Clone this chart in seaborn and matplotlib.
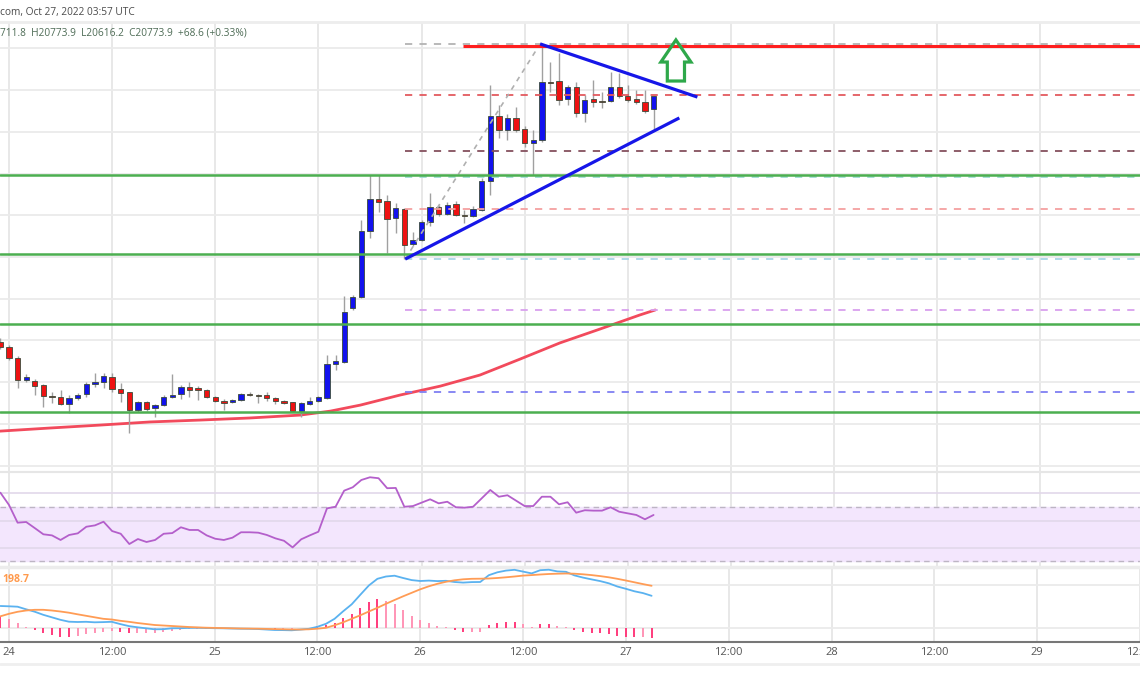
import numpy as np
import seaborn as sns
import matplotlib as mpl
import matplotlib.pyplot as plt
from matplotlib.lines import Line2D
from matplotlib.patches import FancyArrow

sns.set_theme(style="white")
mpl.rcParams["font.family"] = ["Open Sans", "DejaVu Sans"]

# hourly BTC candles, Oct 23 23:00 .. Oct 27 03:00 UTC (x = hours since Oct 24 00:00)
hours = np.arange(-1, 76)

opens = [19592, 19568, 19516, 19410, 19405, 19386, 19333, 19329, 19295, 19324,
         19343, 19391, 19401, 19425, 19367, 19353, 19266, 19305, 19276, 19290,
         19329, 19343, 19377, 19372, 19362, 19329, 19309, 19305, 19314, 19343,
         19338, 19338, 19324, 19309, 19305, 19261, 19295, 19309, 19324, 19487,
         19496, 19755, 19808, 20125, 20278, 20269, 20187, 20230, 20062, 20082,
         20168, 20240, 20206, 20254, 20201, 20197, 20225, 20365, 20676, 20609,
         20667, 20614, 20547, 20561, 20839, 20844, 20758, 20815, 20691, 20758,
         20748, 20748, 20815, 20772, 20758, 20743, 20711.8]
highs = [19612, 19578, 19525, 19439, 19415, 19391, 19353, 19362, 19338, 19348,
         19401, 19444, 19444, 19444, 19396, 19353, 19309, 19309, 19295, 19338,
         19439, 19386, 19401, 19381, 19367, 19333, 19319, 19319, 19348, 19353,
         19343, 19353, 19329, 19314, 19305, 19305, 19329, 19333, 19530, 19530,
         19813, 19818, 20177, 20393, 20393, 20297, 20259, 20235, 20120, 20177,
         20307, 20249, 20264, 20269, 20225, 20245, 20379, 20825, 20729, 20686,
         20719, 20628, 20609, 21022, 20935, 20978, 20825, 20839, 20777, 20849,
         20791, 20887, 20883, 20825, 20801, 20801, 20773.9]
lows = [19559, 19506, 19372, 19401, 19338, 19281, 19300, 19290, 19252, 19314,
        19329, 19377, 19372, 19353, 19305, 19156, 19257, 19261, 19233, 19285,
        19324, 19319, 19329, 19314, 19324, 19305, 19266, 19300, 19309, 19333,
        19300, 19309, 19295, 19295, 19257, 19233, 19290, 19305, 19319, 19458,
        19492, 19746, 19803, 20091, 20216, 20019, 20115, 19990, 20053, 20077,
        20149, 20197, 20201, 20197, 20163, 20192, 20221, 20297, 20571, 20561,
        20600, 20528, 20393, 20552, 20791, 20729, 20729, 20671, 20648, 20719,
        20715, 20743, 20763, 20743, 20734, 20691, 20616.2]
closes = [19568, 19516, 19410, 19425, 19381, 19333, 19329, 19295, 19324, 19338,
          19391, 19401, 19429, 19367, 19348, 19266, 19305, 19271, 19290, 19329,
          19338, 19377, 19362, 19362, 19329, 19309, 19300, 19314, 19343, 19338,
          19333, 19324, 19309, 19300, 19261, 19300, 19309, 19329, 19487, 19501,
          19736, 19808, 20125, 20278, 20264, 20182, 20235, 20058, 20082, 20168,
          20240, 20206, 20249, 20201, 20197, 20230, 20365, 20676, 20609, 20667,
          20609, 20547, 20561, 20839, 20835, 20753, 20815, 20691, 20753, 20743,
          20743, 20815, 20772, 20753, 20743, 20700, 20773.9]

# 100 SMA
ma_hours = [-1.05, 4.8, 10.6, 16.4, 22.2, 28.0, 33.9, 37.4, 40.9, 45.5,
            50.2, 54.8, 59.5, 64.1, 68.8, 73.4, 75.2]
ma_values = [19165, 19180, 19194, 19209, 19218, 19228, 19242, 19261, 19290, 19338,
             19381, 19434, 19511, 19588, 19655, 19722, 19746]

rsi = [80.6, 71.5, 58.4, 58.9, 54.4, 49.8, 49.0, 45.6, 49.3, 50.5,
       55.4, 56.4, 59.1, 52.2, 50.2, 42.6, 46.3, 44.1, 45.6, 50.2,
       50.7, 55.0, 53.0, 53.0, 49.0, 46.5, 45.6, 47.3, 51.3, 51.3,
       51.0, 49.3, 46.8, 45.0, 40.1, 46.1, 49.0, 51.7, 69.0, 70.2,
       82.1, 84.6, 90.0, 92.0, 91.3, 83.9, 84.1, 70.2, 70.7, 73.2,
       75.7, 72.7, 73.9, 69.8, 69.5, 70.2, 76.4, 82.6, 77.6, 78.7,
       74.7, 70.7, 70.7, 77.6, 77.6, 72.0, 73.5, 65.8, 67.6, 67.3,
       67.3, 69.8, 66.5, 65.3, 64.1, 60.9, 64.1]

macd = [22.3, 22.0, 21.6, 19.0, 16.6, 13.5, 11.0, 8.5, 6.6, 6.3,
        6.5, 6.0, 6.2, 6.5, 4.2, 2.2, 1.0, 0.0, -1.0, -0.9,
        0.0, 0.1, 0.4, 0.5, 0.3, 0.1, 0.0, -0.2, -0.4, -0.5,
        -0.7, -1.2, -1.7, -1.8, -2.0, -1.3, -0.5, 1.5, 4.5, 9.5,
        17.0, 24.0, 33.5, 42.8, 49.5, 51.8, 52.6, 50.3, 48.2, 47.3,
        47.7, 47.2, 47.5, 46.3, 45.7, 46.2, 46.3, 53.1, 56.0, 57.7,
        58.5, 56.7, 54.9, 58.1, 58.6, 56.9, 56.5, 52.9, 50.7, 48.9,
        47.2, 45.0, 41.8, 39.5, 37.0, 35.2, 32.5]
signal = [12.0, 14.5, 16.5, 17.8, 18.5, 18.5, 17.8, 16.8, 15.6, 14.0,
          12.5, 11.0, 9.5, 8.8, 7.5, 6.5, 5.3, 4.3, 3.3, 2.8,
          2.3, 1.8, 1.3, 0.9, 0.6, 0.4, 0.2, 0.0, -0.2, -0.3,
          -0.4, -0.6, -0.8, -1.0, -1.2, -1.2, -1.0, -0.4, 0.5, 3.0,
          6.0, 9.5, 13.0, 16.8, 20.5, 24.5, 28.3, 32.0, 35.5, 39.0,
          42.0, 44.5, 46.5, 48.0, 49.0, 49.5, 49.6, 49.8, 50.3, 51.0,
          51.8, 52.7, 53.2, 53.8, 54.3, 54.6, 54.8, 54.6, 54.0, 53.2,
          52.2, 51.0, 49.5, 47.8, 46.0, 44.2, 42.5]
hist = [11.7, 9.0, 5.0, 1.7, -1.7, -5.0, -6.7, -8.3, -9.0, -7.7,
        -6.0, -5.0, -3.3, -2.3, -3.3, -4.3, -4.3, -4.3, -4.3, -3.7,
        -2.3, -1.7, -0.9, -0.4, -0.3, -0.3, -0.2, -0.2, -0.2, -0.2,
        -0.3, -0.6, -0.9, -0.8, -0.8, -0.1, 0.5, 1.9, 3.5, 5.0,
        10.0, 14.0, 20.7, 26.0, 29.0, 27.3, 24.3, 18.3, 12.7, 8.3,
        5.7, 2.7, 1.0, -1.7, -3.3, -3.3, -3.3, 3.3, 5.7, 6.7,
        6.7, 4.0, 1.7, 4.3, 4.3, 2.3, 1.7, -1.7, -3.3, -4.3,
        -5.0, -6.0, -7.7, -8.3, -9.0, -9.0, -10.0]

# drawings
support = [20395, 20013, 19677, 19258]
resistance = 21010
fib_levels = [21022, 20778, 20506, 20384, 20230, 19990, 19746, 19352]
fib_colors = ["#b3b3b3", "#e35a5f", "#85505e", "#9fdcd3", "#f5a0a0",
              "#a9d6e6", "#d9a0ee", "#7f7ff2"]
fib_anchor = ([46.1, 61.8], [19990, 21022])
lower_trend = ([46.1, 78.0], [19990, 20667])
upper_trend = ([61.8, 80.1], [21022, 20767])

day_ticks = np.arange(0, 133, 12)
day_labels = ["24", "12:00", "25", "12:00", "26", "12:00", "27", "12:00",
              "28", "12:00", "29", "12:00"]

H = 694
fig = plt.figure(figsize=(11.4, 6.94), dpi=100)


def pane(top, bottom):
    return fig.add_axes([0, 1 - bottom / H, 1, (bottom - top) / H])


ax = pane(22, 472)
ax_rsi = pane(472, 567)
ax_macd = pane(567, 642)
xlim = (-1.047, 131.6)

for a in (ax, ax_rsi, ax_macd):
    a.set_xlim(*xlim)
    a.set_facecolor("white")
    for t in day_ticks:
        a.axvline(t, color="#e8e8e8", lw=1.4, zorder=0)
    for s in a.spines.values():
        s.set_visible(False)
    a.set_yticks([])
    a.set_xticks([])

# ---- price pane
ax.set_ylim(18969, 21127)
for p in range(19000, 21001, 200):
    ax.axhline(p, color="#ebebeb", lw=1.3, zorder=0)
ax.spines["top"].set_visible(True)
ax.spines["top"].set_color("#ededed")
ax.spines["top"].set_linewidth(2)

sns.lineplot(x=ma_hours, y=ma_values, ax=ax, color="#f24a5c", lw=2, zorder=2)

o = np.array(opens)
c = np.array(closes)
up = c >= o
body_col = np.where(up, "#1212ee", "#ee1212")
ax.vlines(hours, lows, highs, color="#a0a0a0", lw=1, zorder=3)
ax.bar(hours, np.maximum(np.abs(c - o), 4), bottom=np.minimum(o, c), width=0.62,
       color=body_col, edgecolor="#3a4a3a", linewidth=0.6, zorder=4)

for lvl, col in zip(fib_levels, fib_colors):
    ax.hlines(lvl, fib_anchor[0][0], xlim[1], color=col, lw=1.3,
              linestyles=(0, (4, 4)), zorder=5)
ax.plot(*fib_anchor, color="#b0b0b0", lw=1.2, ls=(0, (3, 3)), zorder=5)
for lvl in support:
    ax.axhline(lvl, color="#4caf50", lw=1.8, zorder=5)
ax.hlines(resistance, 52.8, xlim[1], color="#ff1f1f", lw=2.2, zorder=5)
ax.plot(*lower_trend, color="#1616e8", lw=2.3, zorder=6, solid_capstyle="butt")
ax.plot(*upper_trend, color="#1616e8", lw=2.3, zorder=6, solid_capstyle="butt")
ax.add_patch(FancyArrow(77.6, 20844, 0, 197, width=2.0, head_width=3.5,
                        head_length=106, length_includes_head=True, fill=False,
                        edgecolor="#2ea84a", lw=2.3, zorder=7))
ax.set_xlabel("")
ax.set_ylabel("")

# ---- RSI pane
ax_rsi.set_ylim(25.6, 95.9)
ax_rsi.axhspan(30, 70, color="#f3e6fd", zorder=0.5)
for v in (40, 60, 80):
    ax_rsi.axhline(v, color="#e2d8ea", lw=1.2, zorder=0.6)
for v in (30, 70):
    ax_rsi.axhline(v, color="#bdb5c4", lw=1, ls=(0, (4, 3)), zorder=0.7)
sns.lineplot(x=hours, y=rsi, ax=ax_rsi, color="#b45fcb", lw=1.3, zorder=3)
ax_rsi.spines["top"].set_visible(True)
ax_rsi.spines["top"].set_color("#e6e6e6")
ax_rsi.spines["top"].set_linewidth(1.5)
ax_rsi.set_xlabel("")
ax_rsi.set_ylabel("")

# ---- MACD pane
ax_macd.set_ylim(-13.7, 61.3)
for v in (0, 43.3):
    ax_macd.axhline(v, color="#ebebeb", lw=1.3, zorder=0)
h = np.array(hist)
rising = np.r_[True, np.diff(h) >= 0]
hist_col = np.where((h >= 0) == rising, "#ff3b7c", "#ff94b5")
ax_macd.vlines(hours, 0, h, colors=hist_col, lw=1.4, zorder=2)
sns.lineplot(x=hours, y=macd, ax=ax_macd, color="#5ab2f0", lw=1.3, zorder=3)
sns.lineplot(x=hours, y=signal, ax=ax_macd, color="#ff9c55", lw=1.3, zorder=3)
ax_macd.spines["top"].set_visible(True)
ax_macd.spines["top"].set_color("#ececec")
ax_macd.spines["top"].set_linewidth(2.5)
ax_macd.spines["bottom"].set_visible(True)
ax_macd.spines["bottom"].set_color("#777777")
ax_macd.spines["bottom"].set_linewidth(1.5)
ax_macd.set_xticks(day_ticks)
ax_macd.set_xticklabels(day_labels)
ax_macd.tick_params(axis="x", length=0, pad=3.5, labelsize=8, labelcolor="#555555")
ax_macd.set_xlabel("")
ax_macd.set_ylabel("")

# ---- header / legends
fig.text(0.0, 1 - 12 / H, "com, Oct 27, 2022 03:57 UTC", fontsize=7.3,
         color="#4a4a4a", va="center", ha="left")
fig.text(0.0, 1 - 33 / H, "711.8  H20773.9  L20616.2  C20773.9  +68.6 (+0.33%)",
         fontsize=7.3, color="#4d6b55", va="center", ha="left")
fig.text(0.002, 1 - 579 / H, "198.7", fontsize=7.5, color="#ff9a4d",
         fontweight="bold", va="center", ha="left")
fig.add_artist(Line2D([0, 1], [1 - 664 / H] * 2, color="#efefef", lw=2))

fig.savefig("out.png", dpi=100, facecolor="white")
